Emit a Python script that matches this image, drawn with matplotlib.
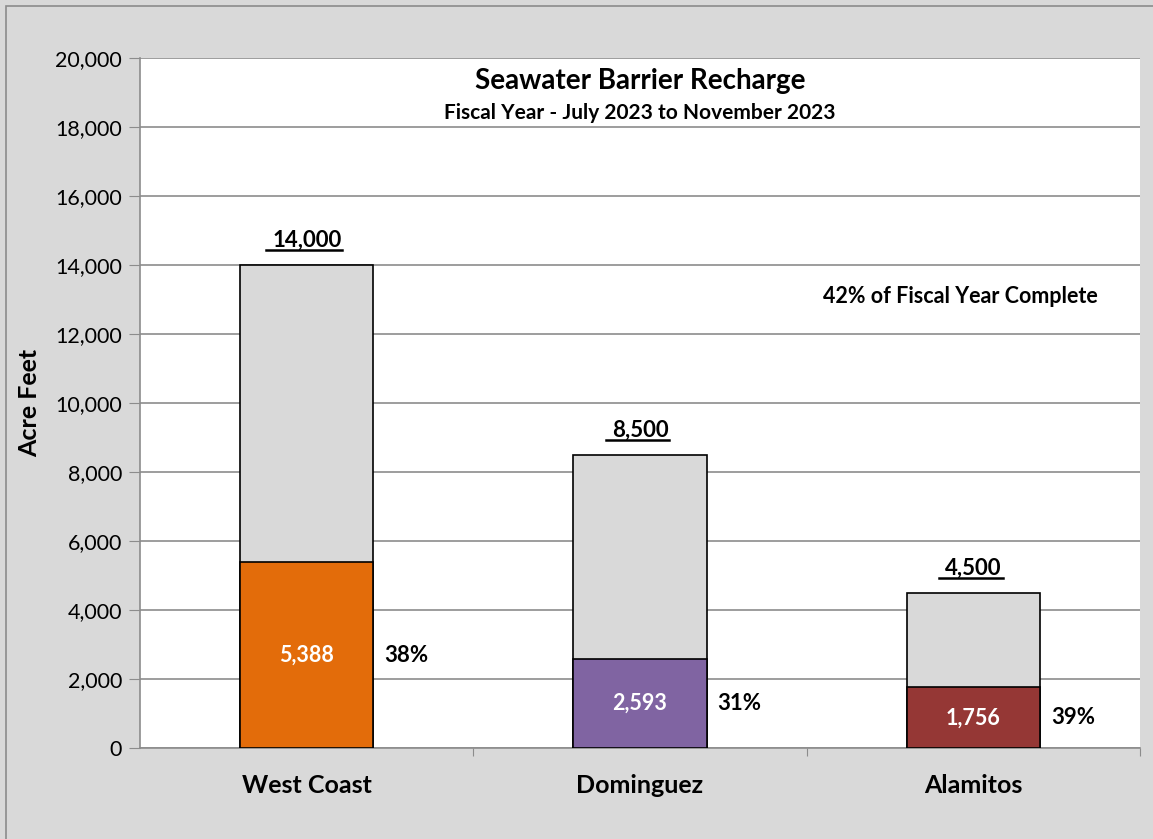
#!/usr/bin/env python3

import matplotlib
matplotlib.use("Agg")
from matplotlib import pyplot as plt
from matplotlib.lines import Line2D
from matplotlib.patches import Rectangle
import numpy as np

# chart data
barriers = ["West Coast", "Dominguez", "Alamitos"]
targets = [14000, 8500, 4500]
recharged = [5388, 2593, 1756]
pct_labels = ["38%", "31%", "39%"]
fill_colors = ["#E36C0A", "#8064A2", "#953735"]
y_ticks = [0, 2000, 4000, 6000, 8000, 10000, 12000, 14000, 16000, 18000, 20000]


def main():
    plt.rcParams['font.family'] = ['Lato', 'DejaVu Sans']

    W, H = 1153, 839
    fig = plt.figure(figsize=(W / 100, H / 100), dpi=100)
    fig.patch.set_facecolor("#D9D9D9")

    # outer chart border (cropped on right and bottom)
    fig.add_artist(Rectangle((6 / W, -0.05), 1.1, 1.05 - 6 / H,
                             transform=fig.transFigure, fill=False,
                             edgecolor="#8C8C8C", lw=1.2))

    ax = fig.add_axes([140 / W, 1 - 748 / H, 1000 / W, 690 / H])
    ax.set_facecolor("white")

    x = np.arange(len(barriers))
    width = 0.4
    ax.bar(x, targets, width, color="#D9D9D9", edgecolor="black", lw=1.2, zorder=3)
    ax.bar(x, recharged, width, color=fill_colors, edgecolor="black", lw=1.2, zorder=4)

    ax.set_xlim(-0.5, 2.5)
    ax.set_ylim(0, 20000)
    ax.set_yticks(y_ticks)
    ax.set_yticklabels([f"{v:,}" for v in y_ticks], fontsize=15.5)
    ax.yaxis.grid(True, color="#8C8C8C", lw=1.2, zorder=0)
    ax.set_axisbelow(True)

    ax.set_xticks([0.5, 1.5, 2.5])
    ax.set_xticklabels([])
    ax.set_xticks(x, minor=True)
    ax.set_xticklabels(barriers, minor=True, fontsize=18, fontweight="bold")
    ax.tick_params(axis="x", which="minor", length=0, pad=19)
    ax.tick_params(axis="x", which="major", length=6, color="#8C8C8C", direction="out")
    ax.tick_params(axis="y", length=8, color="#8C8C8C", pad=5)

    for side in ["top", "right"]:
        ax.spines[side].set_visible(False)
    for side in ["left", "bottom"]:
        ax.spines[side].set_color("#8C8C8C")
        ax.spines[side].set_linewidth(1.2)

    ax.set_ylabel("Acre Feet", fontsize=18, fontweight="bold", labelpad=10)

    # title
    ax.text(0.5, 0.966, "Seawater Barrier Recharge", transform=ax.transAxes,
            ha="center", va="center", fontsize=20, fontweight="bold")
    ax.text(0.5, 0.92, "Fiscal Year - July 2023 to November 2023",
            transform=ax.transAxes, ha="center", va="center", fontsize=15,
            fontweight="bold")
    ax.text(1.96, 13100, "42% of Fiscal Year Complete", ha="center",
            va="center", fontsize=15.5, fontweight="bold")

    total_texts = []
    for i in range(len(barriers)):
        t = ax.text(x[i], targets[i] + 400, f"{targets[i]:,}", ha="center",
                    va="bottom", fontsize=16, fontweight="bold")
        total_texts.append(t)
        ax.text(x[i], recharged[i] / 2, f"{recharged[i]:,}", ha="center",
                va="center", fontsize=15.5, fontweight="bold", color="white",
                zorder=5)
        ax.text(x[i] + width / 2 + 0.033, recharged[i] / 2, pct_labels[i],
                ha="left", va="center", fontsize=16, fontweight="bold")

    # underline the target totals
    fig.canvas.draw()
    inv = fig.transFigure.inverted()
    for t in total_texts:
        bb = t.get_window_extent()
        (x0, y0), (x1, _) = inv.transform([(bb.x0 - 6, bb.y0 + 1),
                                           (bb.x1 + 1, bb.y0 + 1)])
        fig.add_artist(Line2D([x0, x1], [y0, y0], transform=fig.transFigure,
                              color="black", lw=1.8))

    fig.savefig("out.png", dpi=100, facecolor=fig.get_facecolor())


if __name__ == "__main__":
    main()
